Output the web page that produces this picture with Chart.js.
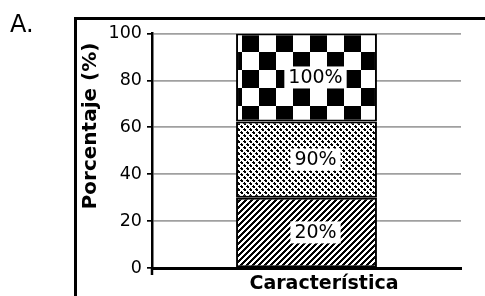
<!DOCTYPE html>
<html>
<head>
<meta charset="utf-8">
<script src="https://cdn.jsdelivr.net/npm/chart.js@4"></script>
<style>
    body { margin: 0; background: #fff; }
    #wrap { position: relative; width: 485px; height: 296px; }
    #panelLetter { position: absolute; left: 10px; top: 12px; font: 24px "DejaVu Sans"; line-height: 24px; color: #000; }
</style>
</head>
<body>
<div id="wrap">
    <canvas id="stackChart" width="485" height="296"></canvas>
    <div id="panelLetter">A.</div>
</div>
<script>
const categories = [''];
const segmentLabels = ['20%', '90%', '100%'];
const segmentValues = [30, 32.5, 37.5];
const yMin = 0;
const yMax = 100;
const yStep = 20;
const xTitle = 'Característica';
const yTitle = 'Porcentaje (%)';

// fill patterns for the three segments
function makeTile(w, h, isBlack) {
    const c = document.createElement('canvas');
    c.width = w;
    c.height = h;
    const g = c.getContext('2d');
    g.fillStyle = '#fff';
    g.fillRect(0, 0, w, h);
    g.fillStyle = '#000';
    for (let y = 0; y < h; y++) {
        for (let x = 0; x < w; x++) {
            if (isBlack(x, y)) g.fillRect(x, y, 1, 1);
        }
    }
    return g.createPattern(c, 'repeat');
}

const ctx = document.getElementById('stackChart').getContext('2d');

const hatchDense = makeTile(6, 6, (x, y) => (x + y) % 6 < 3);
const hatchDotted = makeTile(6, 6, (x, y) => ((x - y + 12) % 6 < 3) && ((x + y) % 6 < 4));
const checker = makeTile(34, 36, (x, y) => (x < 17) === (y < 18));
checker.setTransform(new DOMMatrix().translate(4, 34));
const fills = [hatchDense, hatchDotted, checker];

const frame = {
    id: 'frame',
    beforeDraw(chart) {
        const c = chart.ctx;
        c.save();
        c.strokeStyle = '#000';
        c.lineWidth = 3;
        c.strokeRect(75.5, 18.5, 700, 500);
        c.restore();
    },
    afterDraw(chart) {
        const c = chart.ctx;
        const area = chart.chartArea;
        c.save();
        // little tick under the axis corner
        c.strokeStyle = '#000';
        c.lineWidth = 2.5;
        c.beginPath();
        c.moveTo(area.left, area.bottom);
        c.lineTo(area.left, area.bottom + 7);
        c.stroke();

        c.fillStyle = '#000';
        c.textAlign = 'center';
        c.textBaseline = 'middle';
        c.font = 'bold 19px "DejaVu Sans"';
        c.fillText(xTitle, 324, 284);
        c.translate(91, 126);
        c.rotate(-Math.PI / 2);
        c.font = 'bold 20px "DejaVu Sans"';
        c.fillText(yTitle, 0, 0);
        c.restore();
    }
};

const barLabels = {
    id: 'barLabels',
    afterDatasetsDraw(chart) {
        const c = chart.ctx;
        c.save();
        c.font = '19px "DejaVu Sans"';
        c.textAlign = 'center';
        c.textBaseline = 'middle';
        chart.data.datasets.forEach((ds, i) => {
            const bar = chart.getDatasetMeta(i).data[0];
            const p = bar.getCenterPoint();
            const x = p.x + 9;
            const w = c.measureText(ds.label).width + 8;
            c.fillStyle = '#fff';
            c.fillRect(x - w / 2, p.y - 11, w, 22);
            c.fillStyle = '#000';
            c.fillText(ds.label, x, p.y + 1);
        });
        c.restore();
    }
};

const stackChart = new Chart(ctx, {
    type: 'bar',
    data: {
        labels: categories,
        datasets: segmentValues.map((v, i) => ({
            label: segmentLabels[i],
            data: [v],
            backgroundColor: fills[i],
            borderColor: '#000',
            borderWidth: 2,
            borderSkipped: false,
            categoryPercentage: 1,
            barPercentage: 0.456
        }))
    },
    options: {
        responsive: false,
        animation: false,
        layout: { padding: { left: 0, top: 33.5, right: 24, bottom: 0 } },
        plugins: {
            legend: { display: false },
            tooltip: { enabled: false }
        },
        scales: {
            x: {
                stacked: true,
                grid: { display: false },
                border: { color: '#000', width: 3 },
                ticks: { display: false },
                afterFit: (s) => { s.height = 28; }
            },
            y: {
                stacked: true,
                min: yMin,
                max: yMax,
                ticks: {
                    stepSize: yStep,
                    color: '#000',
                    padding: 5,
                    font: { family: 'DejaVu Sans', size: 17.5 }
                },
                grid: { color: '#a0a0a0', lineWidth: 1.7, tickColor: '#000', tickLength: 5 },
                border: { color: '#000', width: 2.5 },
                afterFit: (s) => { s.width = 152; }
            }
        }
    },
    plugins: [frame, barLabels]
});
</script>
</body>
</html>
